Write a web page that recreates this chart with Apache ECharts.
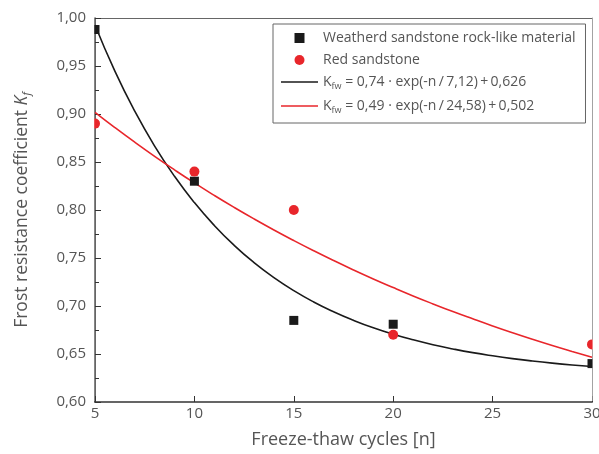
<!DOCTYPE html>
<html>
<head>
<meta charset="utf-8">
<script src="https://cdn.jsdelivr.net/npm/echarts@6/dist/echarts.min.js"></script>
<style>html,body{margin:0;padding:0;background:#fff}#c{width:599px;height:454px}</style>
</head>
<body>
<div id="c"></div>
<script>
// Measured points
var cycles = [5, 10, 15, 20, 30];
var weatheredValues = [0.988, 0.830, 0.685, 0.681, 0.640];
var redValues = [0.890, 0.840, 0.800, 0.670, 0.660];
// Fitted curves (at each cycle 5..30)
var curveX = [5,6,7,8,9,10,11,12,13,14,15,16,17,18,19,20,21,22,23,24,25,26,27,28,29,30];
var weatheredFit = [0.9927,0.9446,0.9029,0.8666,0.8351,0.8077,0.7839,0.7632,0.7452,0.7296,0.7160,0.7042,0.6940,0.6851,0.6773,0.6706,0.6648,0.6597,0.6553,0.6514,0.6481,0.6452,0.6427,0.6405,0.6386,0.6370];
var redFit = [0.9018,0.8859,0.8706,0.8559,0.8418,0.8282,0.8152,0.8027,0.7907,0.7792,0.7682,0.7576,0.7474,0.7376,0.7282,0.7192,0.7105,0.7022,0.6942,0.6866,0.6792,0.6721,0.6653,0.6588,0.6526,0.6466];
var yTicks = ['0,60','0,65','0,70','0,75','0,80','0,85','0,90','0,95','1,00'];
var names = ['Weatherd sandstone rock-like material', 'Red sandstone', 'fitBlack', 'fitRed'];
var fitText = {fitBlack: ' = 0,74 · exp(-n\u2009/\u20097,12)\u2009+\u20090,626', fitRed: ' = 0,49 · exp(-n\u2009/\u200924,58)\u2009+\u20090,502'};

function pairs(xs, ys){ return xs.map(function(x,i){ return [x, ys[i]]; }); }

var FONT = 'Open Sans';
var GREY = '#555';
var BLACK = '#1a1a1a';
var RED = '#e8262b';
var LINE_ICON = 'path://M0 0H37V1.6H0Z';
var chart = echarts.init(document.getElementById('c'));
chart.setOption({
  animation: false,
  textStyle: {fontFamily: FONT},
  grid: {left: 95, right: 7, top: 18, bottom: 52, outerBoundsMode: 'none', containLabel: false},
  legend: {
    orient: 'vertical',
    left: 273, top: 24,
    padding: [7, 10, 8, 8],
    itemWidth: 37, itemHeight: 10, itemGap: 8,
    borderColor: '#666', borderWidth: 1,
    data: [
      {name: names[0]},
      {name: names[1]},
      {name: names[2], icon: LINE_ICON},
      {name: names[3], icon: LINE_ICON}
    ],
    textStyle: {
      fontSize: 14, color: GREY, fontFamily: FONT,
      rich: {
        k: {fontSize: 14, color: GREY, fontFamily: FONT},
        s: {fontSize: 9, color: GREY, fontFamily: FONT, padding: [9, 0, 0, 0]},
        t: {fontSize: 14, color: GREY, fontFamily: FONT}
      }
    },
    formatter: function(n){
      if (fitText[n]) return '{k|K}{s|fw}{t|' + fitText[n] + '}';
      return n;
    }
  },
  xAxis: [{
    type: 'value', min: 5, max: 30, interval: 5,
    name: 'Freeze-thaw cycles [n]', nameLocation: 'middle', nameGap: 29,
    nameTextStyle: {fontSize: 18, color: GREY, fontFamily: FONT},
    axisLine: {show: true, onZero: false, lineStyle: {color: '#333', width: 1.5}},
    axisTick: {show: true, inside: true, length: 6, lineStyle: {color: '#333'}},
    axisLabel: {fontSize: 15, color: GREY, margin: 4},
    splitLine: {show: false}
  }, {
    type: 'value', min: 5, max: 30, interval: 5, position: 'top',
    axisLine: {show: true, onZero: false, lineStyle: {color: '#666', width: 1}},
    axisTick: {show: false}, axisLabel: {show: false}, splitLine: {show: false}
  }],
  yAxis: [{
    type: 'value', min: 0.6, max: 1.0, interval: 0.05,
    name: 'Frost resistance coefficient {i|K}{s|f}', nameLocation: 'middle', nameGap: 63,
    nameTextStyle: {fontSize: 17.5, color: GREY, fontFamily: FONT,
      rich: {
        i: {fontSize: 17.5, color: GREY, fontStyle: 'italic', fontFamily: FONT},
        s: {fontSize: 11, color: GREY, fontStyle: 'italic', fontFamily: FONT, padding: [8, 0, 0, 0]}
      }},
    axisLine: {show: true, onZero: false, lineStyle: {color: '#333', width: 1.5}},
    axisTick: {show: true, inside: true, length: 6, lineStyle: {color: '#333'}},
    minorTick: {show: true, splitNumber: 2, length: 4, lineStyle: {color: '#333'}},
    axisLabel: {fontSize: 15, color: GREY, margin: 9,
      formatter: function(v){ return yTicks[Math.round((v - 0.6) / 0.05)]; }},
    splitLine: {show: false}
  }, {
    type: 'value', min: 0.6, max: 1.0, interval: 0.05, position: 'right',
    axisLine: {show: true, onZero: false, lineStyle: {color: '#666', width: 1}},
    axisTick: {show: false}, axisLabel: {show: false}, splitLine: {show: false}
  }],
  // white masks so markers at the plot edges appear clipped like the reference
  graphic: [
    {type: 'rect', left: 86, top: 10, shape: {width: 8.2, height: 391}, style: {fill: '#fff'}, z: 100, silent: true},
    {type: 'rect', left: 592.6, top: 10, shape: {width: 7, height: 391}, style: {fill: '#fff'}, z: 100, silent: true}
  ],
  series: [{
    name: names[0], type: 'scatter',
    symbol: 'path://M0 0H10V10H0Z', symbolSize: 9,
    itemStyle: {color: BLACK, opacity: 1},
    data: pairs(cycles, weatheredValues), z: 5
  }, {
    name: names[1], type: 'scatter', symbol: 'circle', symbolSize: 10,
    itemStyle: {color: RED, opacity: 1},
    data: pairs(cycles, redValues), z: 5
  }, {
    name: names[2], type: 'line', smooth: true, symbol: 'none',
    lineStyle: {color: BLACK, width: 1.6}, itemStyle: {color: BLACK},
    data: pairs(curveX, weatheredFit), z: 3
  }, {
    name: names[3], type: 'line', smooth: true, symbol: 'none',
    lineStyle: {color: RED, width: 1.6}, itemStyle: {color: RED},
    data: pairs(curveX, redFit), z: 3
  }]
});
</script>
</body>
</html>
